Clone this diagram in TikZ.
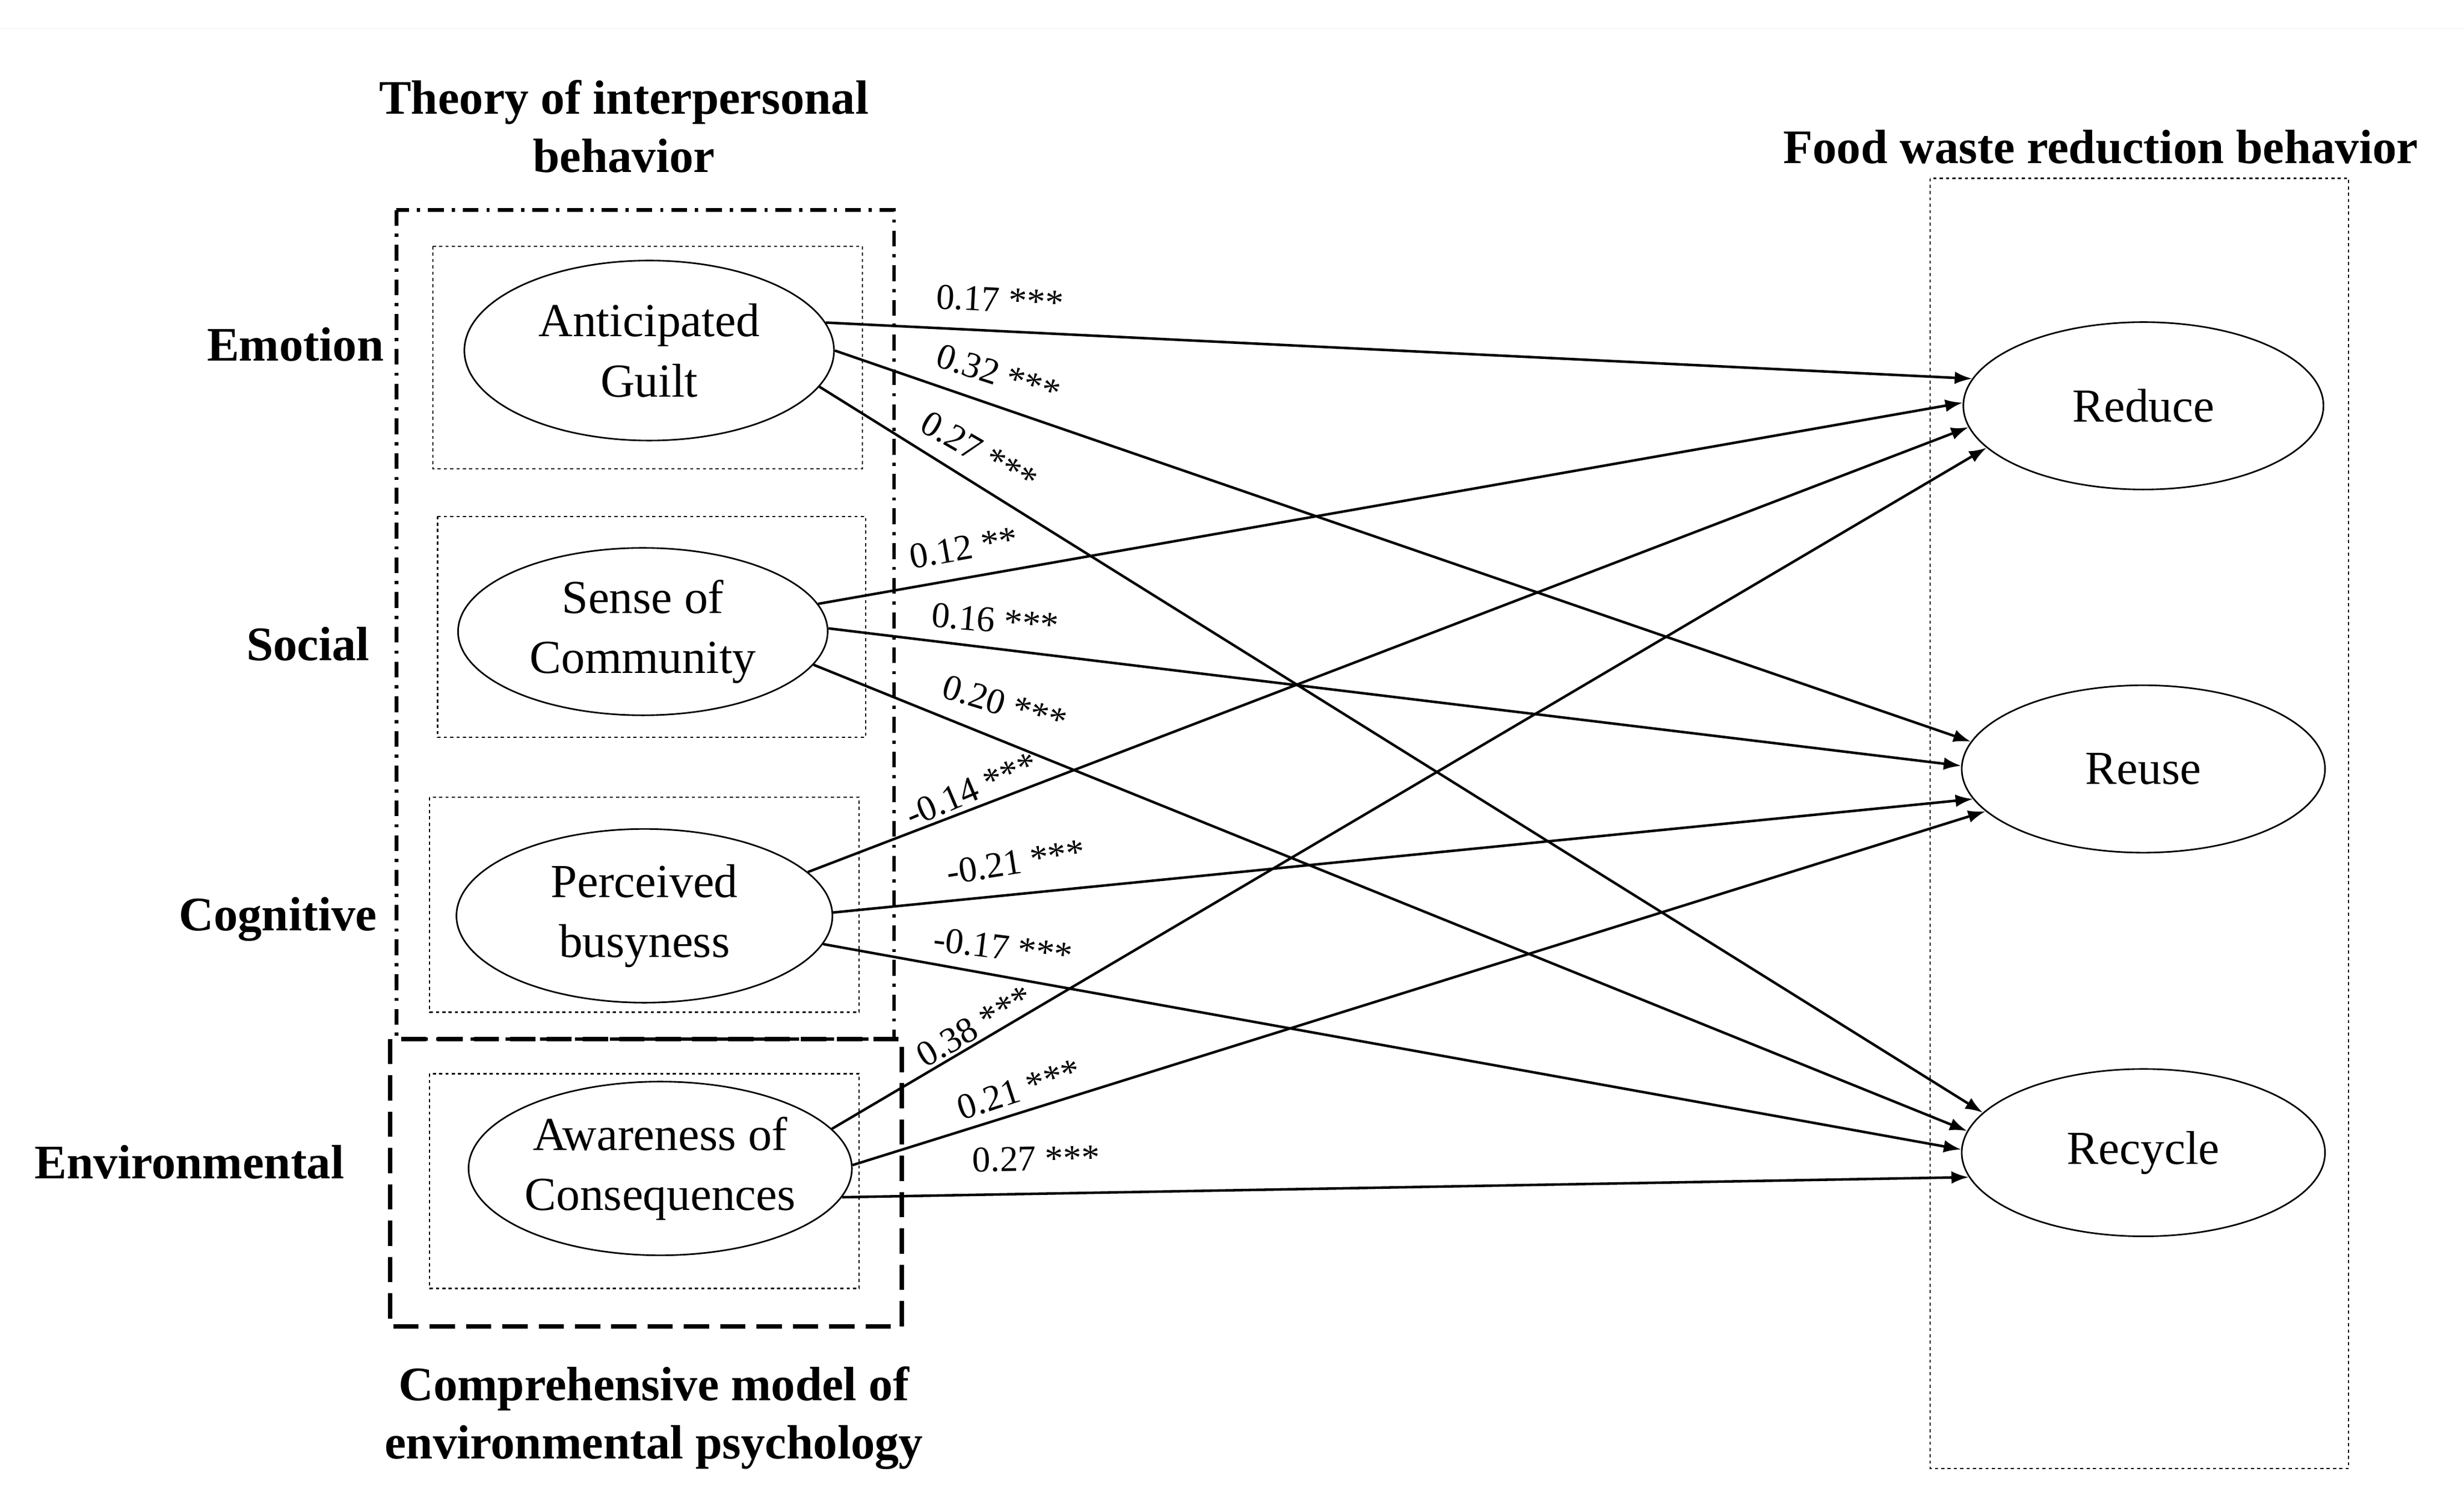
\documentclass[tikz,border=0pt]{standalone}
\usepackage{fontspec}
\setmainfont{Liberation Serif}
\usetikzlibrary{shapes.geometric,arrows.meta}
\begin{document}
\begin{tikzpicture}[x=1pt,y=-1pt,
 el/.style={ellipse,draw,line width=1pt,align=center,font=\fontsize{30}{38}\selectfont,inner sep=0pt},
 ar/.style={-{Latex[length=11pt,width=8pt]},line width=1.6pt},
 lb/.style={font=\fontsize{23}{24}\selectfont,inner sep=1pt},
 hd/.style={font=\bfseries\fontsize{30.5}{37}\selectfont,align=center},
 dot/.style={draw,dash pattern=on 2pt off 2pt,line width=0.8pt}]
\useasboundingbox (0,0) rectangle (1560,943);
\draw[line width=0.5pt,black!8] (0,18)--(1560,18);
\draw[line width=2.2pt,dash pattern=on 10pt off 5pt on 2pt off 5pt] (251,133) rectangle (566,658);
\draw[line width=2.8pt,dash pattern=on 16pt off 7pt] (247,658) rectangle (571,840);
\draw[dot] (274,156) rectangle (546,297);
\draw[dot] (277,327) rectangle (548,467);
\draw[dot] (272,505) rectangle (544,641);
\draw[dot] (272,680) rectangle (544,816);
\draw[dot] (1222,113) rectangle (1487,930);
\node[el,minimum width=234pt,minimum height=114pt] (AG) at (411,222) {Anticipated\\Guilt};
\node[el,minimum width=234pt,minimum height=106pt] (SC) at (407,400) {Sense of\\Community};
\node[el,minimum width=238pt,minimum height=110pt] (PB) at (408,580) {Perceived\\busyness};
\node[el,minimum width=236pt,minimum height=110pt] (AC) at (418,740) {Awareness of\\Consequences};
\node[el,minimum width=228pt,minimum height=106pt] (RD) at (1357,257) {Reduce};
\node[el,minimum width=230pt,minimum height=106pt] (RU) at (1357,487) {Reuse};
\node[el,minimum width=230pt,minimum height=106pt] (RC) at (1357,730) {Recycle};
\draw[ar] (AG.9) -- (RD.171);
\draw[ar] (AG.0) -- (RU.171);
\draw[ar] (AG.-12) -- (RC.166);
\draw[ar] (SC.9) -- (RD.179);
\draw[ar] (SC.1) -- (RU.179);
\draw[ar] (SC.-11) -- (RC.173);
\draw[ar] (PB.15) -- (RD.187);
\draw[ar] (PB.1) -- (RU.190);
\draw[ar] (PB.-9) -- (RC.179);
\draw[ar] (AC.13) -- (RD.195);
\draw[ar] (AC.1) -- (RU.195);
\draw[ar] (AC.-9) -- (RC.188);
\node[lb,rotate=-3] at (633,190) {0.17 ***};
\node[lb,rotate=-18] at (632,237) {0.32 ***};
\node[lb,rotate=-30] at (620,286) {0.27 ***};
\node[lb,rotate=10] at (610,347) {0.12 **};
\node[lb,rotate=-5] at (630,393) {0.16 ***};
\node[lb,rotate=-17] at (636,446) {0.20 ***};
\node[lb,rotate=23] at (615,500) {-0.14 ***};
\node[lb,rotate=9] at (643,546) {-0.21 ***};
\node[lb,rotate=-7] at (635,600) {-0.17 ***};
\node[lb,rotate=30] at (617,650) {0.38 ***};
\node[lb,rotate=18] at (645,690) {0.21 ***};
\node[lb,rotate=1] at (656,734) {0.27 ***};
\node[hd] at (395,80) {Theory of interpersonal\\behavior};
\node[hd] at (1330,93) {Food waste reduction behavior};
\node[hd] at (414,898) {Comprehensive model of\\environmental psychology};
\node[hd] at (187,218) {Emotion};
\node[hd] at (195,408) {Social};
\node[hd] at (176,582) {Cognitive};
\node[hd] at (120,736) {Environmental};
\end{tikzpicture}
\end{document}
